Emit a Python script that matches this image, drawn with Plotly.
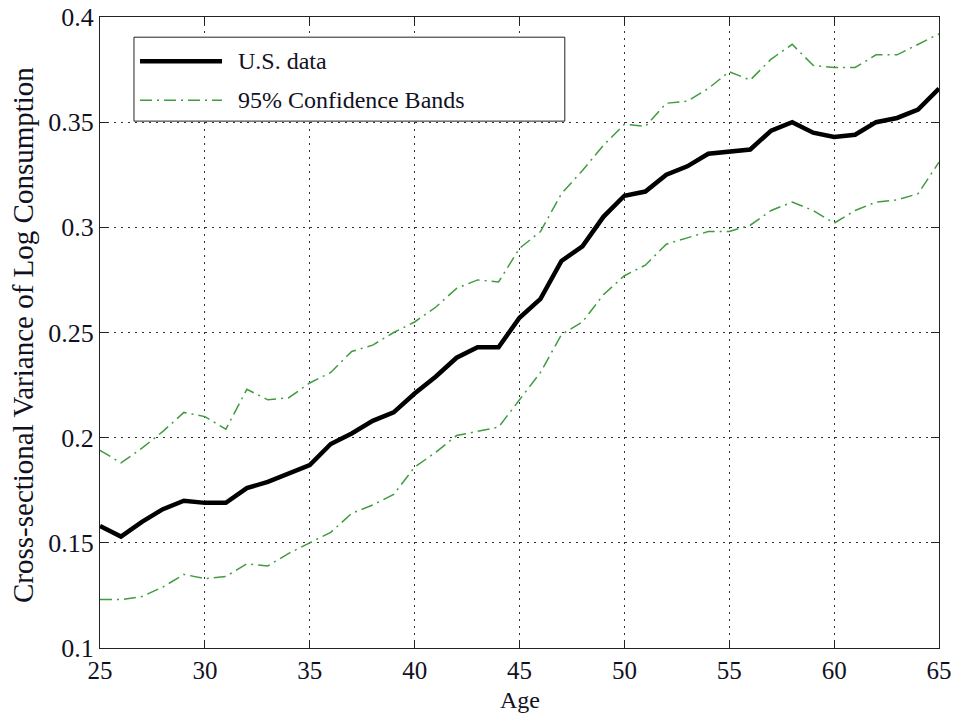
import plotly.graph_objects as go

# Age profile of the cross-sectional variance of log consumption
ages = list(range(25, 66))

us_data = [0.158, 0.153, 0.160, 0.166, 0.170, 0.169, 0.169, 0.176, 0.179, 0.183, 0.187,
           0.197, 0.202, 0.208, 0.212, 0.221, 0.229, 0.238, 0.243, 0.243, 0.257,
           0.266, 0.284, 0.291, 0.305, 0.315, 0.317, 0.325, 0.329, 0.335, 0.336,
           0.337, 0.346, 0.350, 0.345, 0.343, 0.344, 0.350, 0.352, 0.356, 0.366]

upper_band = [0.194, 0.188, 0.195, 0.203, 0.212, 0.210, 0.204, 0.223, 0.218, 0.219, 0.226,
              0.231, 0.241, 0.244, 0.250, 0.255, 0.262, 0.271, 0.275, 0.274, 0.290,
              0.298, 0.316, 0.327, 0.339, 0.349, 0.348, 0.359, 0.360, 0.366, 0.374,
              0.370, 0.380, 0.387, 0.377, 0.376, 0.376, 0.382, 0.382, 0.387, 0.392]

lower_band = [0.123, 0.123, 0.1245, 0.129, 0.135, 0.133, 0.134, 0.140, 0.139, 0.145, 0.150,
              0.155, 0.164, 0.168, 0.173, 0.186, 0.193, 0.201, 0.203, 0.205, 0.218,
              0.231, 0.249, 0.255, 0.268, 0.277, 0.282, 0.292, 0.295, 0.298, 0.298,
              0.301, 0.308, 0.312, 0.308, 0.302, 0.308, 0.312, 0.313, 0.316, 0.331]

x_ticks = [25, 30, 35, 40, 45, 50, 55, 60, 65]
y_ticks = [0.1, 0.15, 0.2, 0.25, 0.3, 0.35, 0.4]
y_tick_labels = ["0.1", "0.15", "0.2", "0.25", "0.3", "0.35", "0.4"]

FONT = "Liberation Serif"
TEXT = "#111122"
GREEN = "#3f9c3f"
BAND_DASH = "12px,5px,2px,5px"

fig = go.Figure()
fig.add_trace(go.Scatter(x=ages, y=upper_band, mode="lines", name="95% Confidence Bands",
                         line=dict(color=GREEN, width=1.5, dash=BAND_DASH)))
fig.add_trace(go.Scatter(x=ages, y=lower_band, mode="lines", showlegend=False,
                         line=dict(color=GREEN, width=1.5, dash=BAND_DASH)))
fig.add_trace(go.Scatter(x=ages, y=us_data, mode="lines", name="U.S. data",
                         line=dict(color="black", width=4.5)))

axis_common = dict(
    showline=True, linecolor="#222", linewidth=1, mirror="ticks",
    ticks="inside", ticklen=8, tickcolor="#222", tickwidth=1,
    showgrid=True, gridcolor="#333", gridwidth=1, griddash="2px,5px",
    zeroline=False,
)

fig.update_xaxes(range=[25, 65], tickvals=x_ticks, automargin=False,
                 tickfont=dict(family=FONT, size=25, color=TEXT), **axis_common)
fig.update_yaxes(range=[0.1, 0.4], tickvals=y_ticks, ticktext=y_tick_labels,
                 automargin=False, tickfont=dict(family=FONT, size=26, color=TEXT),
                 **axis_common)

# Legend drawn as a framed box with line samples
legend_shapes = [
    dict(type="rect", xref="paper", yref="paper", x0=0.0405, x1=0.554, y0=0.835, y1=0.968,
         line=dict(color="#222", width=1), fillcolor="white", layer="above"),
    dict(type="line", xref="paper", yref="paper", x0=0.0477, x1=0.1454, y0=0.930, y1=0.930,
         line=dict(color="black", width=4.5), layer="above"),
    dict(type="line", xref="paper", yref="paper", x0=0.0477, x1=0.1454, y0=0.868, y1=0.868,
         line=dict(color=GREEN, width=1.5, dash=BAND_DASH), layer="above"),
]
annotations = [
    dict(text="U.S. data", xref="paper", yref="paper", x=0.162, y=0.930,
         xanchor="left", yanchor="middle", showarrow=False,
         font=dict(family=FONT, size=24, color=TEXT)),
    dict(text="95% Confidence Bands", xref="paper", yref="paper", x=0.162, y=0.868,
         xanchor="left", yanchor="middle", showarrow=False,
         font=dict(family=FONT, size=24, color=TEXT)),
    dict(text="Age", xref="paper", yref="paper", x=0.5, y=-0.0824,
         xanchor="center", yanchor="middle", showarrow=False,
         font=dict(family=FONT, size=24, color=TEXT)),
    dict(text="Cross-sectional Variance of Log Consumption", xref="paper", yref="paper",
         x=-0.0918, y=0.496, xanchor="center", yanchor="middle", textangle=-90,
         showarrow=False, font=dict(family=FONT, size=29, color=TEXT)),
]

fig.update_layout(
    width=956, height=713,
    margin=dict(l=100, r=17, t=17, b=65),
    paper_bgcolor="white", plot_bgcolor="white",
    showlegend=False,
    shapes=legend_shapes,
    annotations=annotations,
)

fig.write_html("out.html")
